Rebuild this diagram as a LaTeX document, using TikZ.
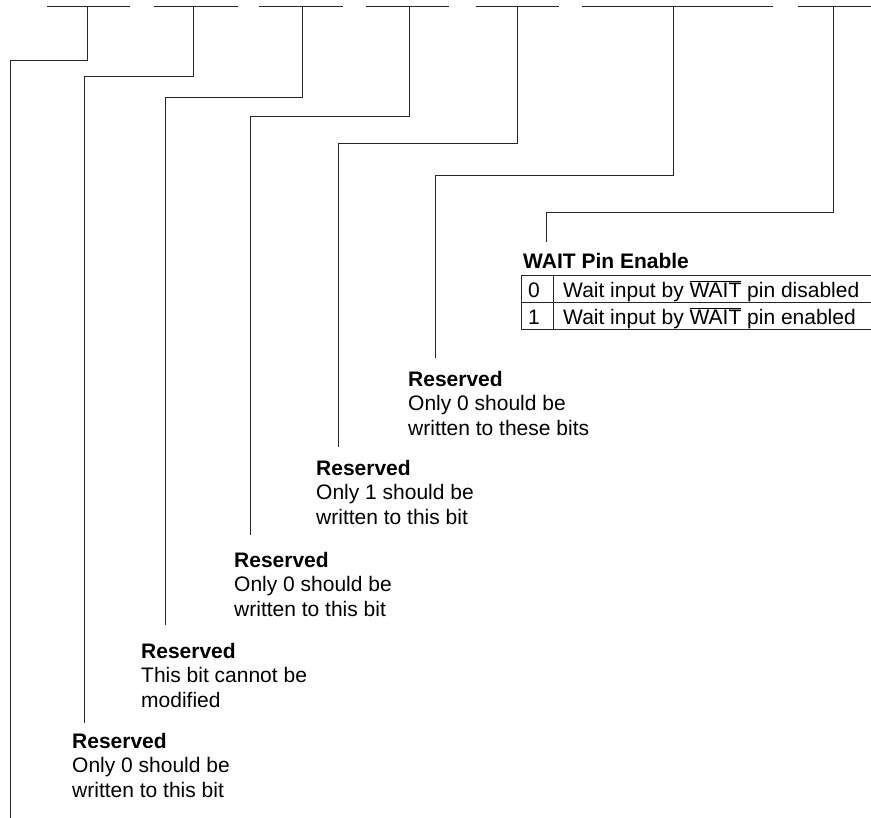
\documentclass[tikz,border=0pt]{standalone}
\usepackage{fontspec}
\setmainfont{Liberation Sans}
\newcommand\ovlwait{\ensuremath{\overline{\mbox{WAIT}}}}
\begin{document}
\begin{tikzpicture}[x=1pt,y=-1pt,
  wire/.style={line width=0.9pt,black!85},
  lbl/.style={anchor=north west,inner sep=0pt,align=left,font=\fontsize{21}{24.5}\selectfont},
  cell/.style={anchor=base west,inner sep=0pt,font=\fontsize{21}{24.5}\selectfont}]
\useasboundingbox (0,0) rectangle (871,818);
% top bars
\foreach \a/\b [count=\i] in {47/130,154/238,259/343,366/449,476/559,582/773,798/871}
  \draw[wire] (\a,6) -- (\b,6);
% drop points on bars
\coordinate (b1) at (87,6);
\coordinate (b2) at (193,6);
\coordinate (b3) at (302,6);
\coordinate (b4) at (409,6);
\coordinate (b5) at (517,6);
\coordinate (b6) at (673,6);
\coordinate (b7) at (833,6);
% corners
\coordinate (k1) at (87,60);
\coordinate (k2) at (193,76);
\coordinate (k3) at (302,97);
\coordinate (k4) at (409,116);
\coordinate (k5) at (517,143);
\coordinate (k6) at (673,175);
\coordinate (k7) at (833,212);
% ends
\coordinate (e1) at (10,818);
\coordinate (e2) at (84,723);
\coordinate (e3) at (165,625);
\coordinate (e4) at (250,535);
\coordinate (e5) at (338,447);
\coordinate (e6) at (435,358);
\coordinate (e7) at (546,242);
\foreach \i in {1,...,7}
  \draw[wire] (b\i) -- (k\i) -| (e\i);
% labels
\node[lbl] (l2) at (72,733) {\textbf{Reserved}\\Only 0 should be\\written to this bit};
\node[lbl] (l3) at (141,643) {\textbf{Reserved}\\This bit cannot be\\modified};
\node[lbl] (l4) at (234,552) {\textbf{Reserved}\\Only 0 should be\\written to this bit};
\node[lbl] (l5) at (316,460) {\textbf{Reserved}\\Only 1 should be\\written to this bit};
\node[lbl] (l6) at (408,371) {\textbf{Reserved}\\Only 0 should be\\written to these bits};
\node[lbl] (l7) at (523,253) {\textbf{WAIT Pin Enable}};
% table
\coordinate (t1) at (521,275);
\coordinate (t2) at (521,302);
\coordinate (t3) at (521,329);
\coordinate (r1) at (871,275);
\coordinate (r2) at (871,302);
\coordinate (r3) at (871,329);
\coordinate (d1) at (553,275);
\coordinate (d3) at (553,329);
\draw[wire] (t1) -- (r1);
\draw[wire] (t2) -- (r2);
\draw[wire] (t3) -- (r3);
\draw[wire] (t1) -- (t3);
\draw[wire] (d1) -- (d3);
\node[cell] (v0) at (528,297.5) {0};
\node[cell] (v1) at (528,324.5) {1};
\node[cell] (w0) at (563,297.5) {Wait input by \ovlwait\ pin disabled};
\node[cell] (w1) at (563,324.5) {Wait input by \ovlwait\ pin enabled};
\end{tikzpicture}
\end{document}
